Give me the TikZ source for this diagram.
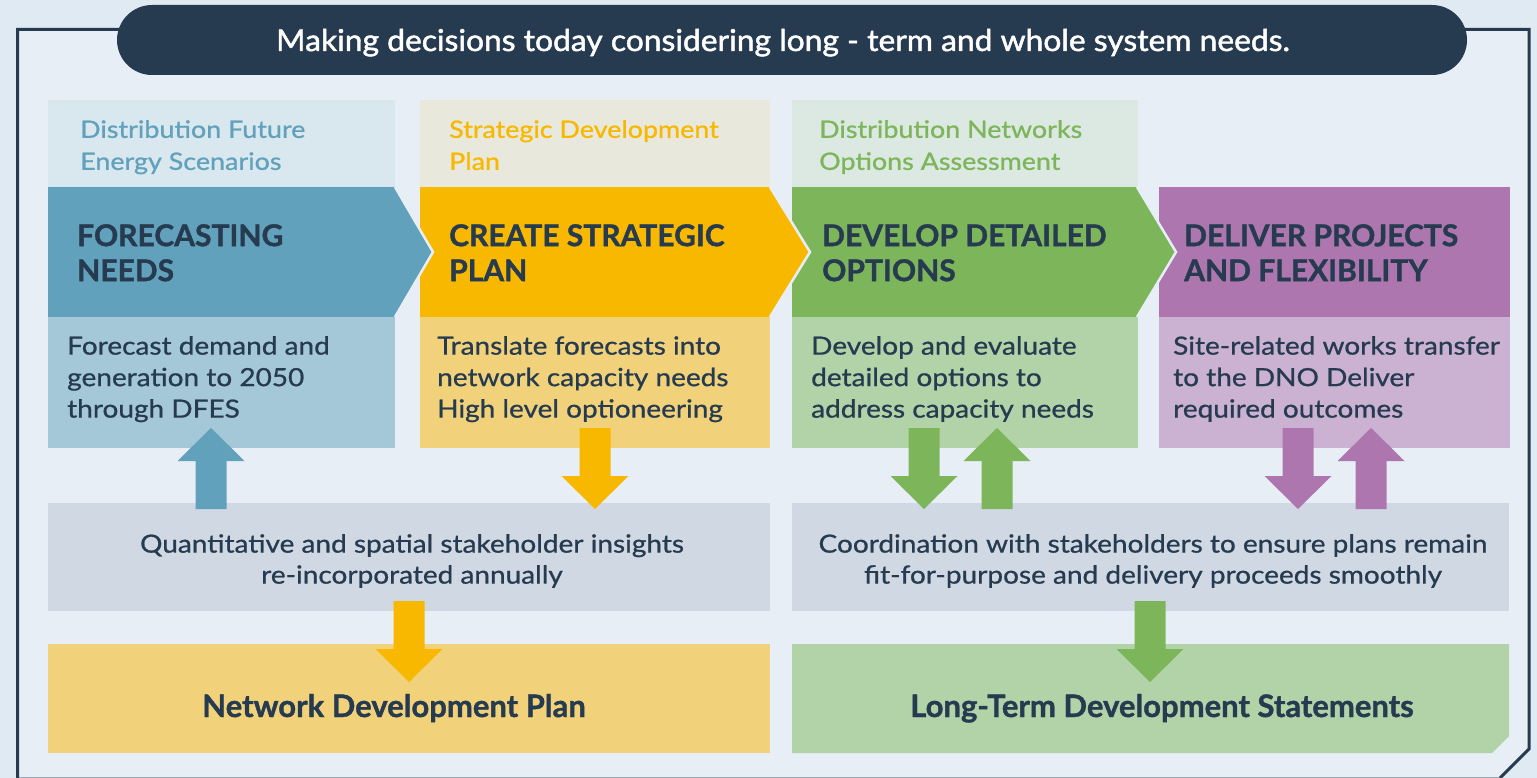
\documentclass[tikz,border=0pt]{standalone}
\usepackage{fontspec}
\setmainfont{Lato}
\newfontfamily\widefont{Lato}[FakeStretch=1.12, FakeBold=0.8]
\newfontfamily\titlefont{Lato}[FakeStretch=1.06, FakeBold=1.6]
\newfontfamily\heavyfont{Lato}[BoldFeatures={FakeBold=1.2}]

\definecolor{pagebg}{HTML}{DFEAF2}
\definecolor{panelbg}{HTML}{E7EEF6}
\definecolor{navy}{HTML}{263B50}
\definecolor{bandgrey}{HTML}{D0D8E4}
\definecolor{fdesblue}{HTML}{62A1BB}
\definecolor{fdeslight}{HTML}{A5C8D8}
\definecolor{fdestop}{HTML}{D9E7EF}
\definecolor{sdpyellow}{HTML}{F9B800}
\definecolor{sdplight}{HTML}{F1D27A}
\definecolor{sdptop}{HTML}{E9E8DC}
\definecolor{dnoagreen}{HTML}{7DB65A}
\definecolor{dnoalight}{HTML}{B2D3A7}
\definecolor{dnoatop}{HTML}{DCE8E2}
\definecolor{delpurple}{HTML}{AE76AF}
\definecolor{dellight}{HTML}{CBB1D2}

% fat block arrow: colour, x of centre, y of tail, y of tip
\newcommand{\blockarrow}[4]{%
  \pgfmathsetmacro{\arrowhb}{#4+33*sign(#3-#4)}
  \fill[#1] (#2-15.5,#3) -- (#2-15.5,\arrowhb) -- (#2-33.5,\arrowhb) -- (#2,#4)
    -- (#2+33.5,\arrowhb) -- (#2+15.5,\arrowhb) -- (#2+15.5,#3) -- cycle;
}

\tikzset{
  lbl/.style={anchor=north west, inner sep=0pt, align=left, font=\widefont\fontsize{24}{32}\selectfont},
  stage/.style={anchor=north west, inner sep=0pt, align=left, text=navy, font=\heavyfont\fontsize{30}{35}\selectfont\bfseries},
  desc/.style={anchor=north west, inner sep=0pt, align=left, text=navy, font=\widefont\fontsize{25}{31.5}\selectfont},
  band/.style={anchor=north, inner sep=0pt, align=center, text=navy, font=\widefont\fontsize{25}{31}\selectfont},
  outcome/.style={anchor=base, inner sep=0pt, text=navy, font=\heavyfont\fontsize{31}{36}\selectfont\bfseries},
}

\begin{document}
\begin{tikzpicture}[x=1pt,y=-1pt]
    \useasboundingbox (0,0) rectangle (1537,778);
    \fill[pagebg] (0,0) rectangle (1537,778);

    \fill[panelbg] (17.5,778) -- (17.5,29.5) -- (1529,29.5) -- (1529,749) -- (1500,778) -- cycle;
    \draw[navy!45, line width=1] (17.5,777.5) -- (1500,777.5);
    \draw[navy, line width=3] (17.5,778) -- (17.5,29.5) -- (1529,29.5) -- (1529,749) -- (1500,778);

    \node[fill=navy, rounded corners=35, minimum width=1350, minimum height=70, inner sep=0pt] (banner) at (792,40) {};
    \node[anchor=base, inner sep=0pt, text=white, font=\titlefont\fontsize{30}{36}\selectfont] (title) at (783,51)
        {Making decisions today considering long - term and whole system needs.};

    % process labels
    \fill[fdestop] (48,100) rectangle (395,186);
    \fill[sdptop] (420,100) rectangle (770,186);
    \fill[dnoatop] (792,100) rectangle (1138,186);
    \node[lbl, text=fdesblue] (dfes) at (80,120) {Distribution Future\\Energy Scenarios};
    \node[lbl, text=sdpyellow] (sdp) at (449,120) {Strategic Development\\Plan};
    \node[lbl, text=dnoagreen] (dnoa) at (819,120) {Distribution Networks\\Options Assessment};

    % stages
    \fill[delpurple] (1159,187) rectangle (1510,317);
    \fill[dnoagreen] (792,187) -- (1137,187) -- (1176,252) -- (1137,317) -- (792,317) -- cycle;
    \draw[panelbg, line width=2.5] (1137,187) -- (1176,252) -- (1137,317);
    \fill[sdpyellow] (420,187) -- (770,187) -- (810,252) -- (770,317) -- (420,317) -- cycle;
    \draw[panelbg, line width=2.5] (770,187) -- (810,252) -- (770,317);
    \fill[fdesblue] (48,187) -- (395,187) -- (433,252) -- (395,317) -- (48,317) -- cycle;
    \draw[panelbg, line width=2.5] (395,187) -- (433,252) -- (395,317);
    \node[stage] (forecast) at (77,224) {FORECASTING\\NEEDS};
    \node[stage] (strategic) at (449,224) {CREATE STRATEGIC\\PLAN};
    \node[stage] (options) at (822,224) {DEVELOP DETAILED\\OPTIONS};
    \node[stage] (deliver) at (1184,224) {DELIVER PROJECTS\\AND FLEXIBILITY};

    \fill[fdeslight] (48,317) rectangle (395,448);
    \fill[sdplight] (420,317) rectangle (770,448);
    \fill[dnoalight] (792,317) rectangle (1138,448);
    \fill[dellight] (1159,317) rectangle (1510,448);
    \node[desc] (forecastdesc) at (67,336) {Forecast demand and\\generation to 2050\\through DFES};
    \node[desc] (strategicdesc) at (437,336) {Translate forecasts into\\network capacity needs\\High level optioneering};
    \node[desc] (optionsdesc) at (811,336) {Develop and evaluate\\detailed options to\\address capacity needs};
    \node[desc] (deliverdesc) at (1173,336) {Site-related works transfer\\to the DNO Deliver\\required outcomes};

    % stakeholder bands
    \fill[bandgrey] (48,503) rectangle (770,611);
    \fill[bandgrey] (792,503) rectangle (1509,611);
    \node[band] (insights) at (412,534) {Quantitative and spatial stakeholder insights\\re-incorporated annually};
    \node[band] (coord) at (1153,534) {Coordination with stakeholders to ensure plans remain\\fit-for-purpose and delivery proceeds smoothly};

    % outputs
    \fill[sdplight] (48,644) rectangle (770,753);
    \fill[dnoalight] (792,644) -- (1509,644) -- (1509,736) -- (1492,753) -- (792,753) -- cycle;
    \node[outcome] (ndp) at (394,717) {Network Development Plan};
    \node[outcome] (ltds) at (1162,717) {Long-Term Development Statements};

    \blockarrow{fdesblue}{211}{509}{428}
    \blockarrow{sdpyellow}{595}{428}{509}
    \blockarrow{dnoagreen}{924}{428}{509}
    \blockarrow{dnoagreen}{997}{509}{428}
    \blockarrow{delpurple}{1298}{428}{509}
    \blockarrow{delpurple}{1371}{509}{428}
    \blockarrow{sdpyellow}{409}{601}{682}
    \blockarrow{dnoagreen}{1150}{601}{682}
\end{tikzpicture}
\end{document}
